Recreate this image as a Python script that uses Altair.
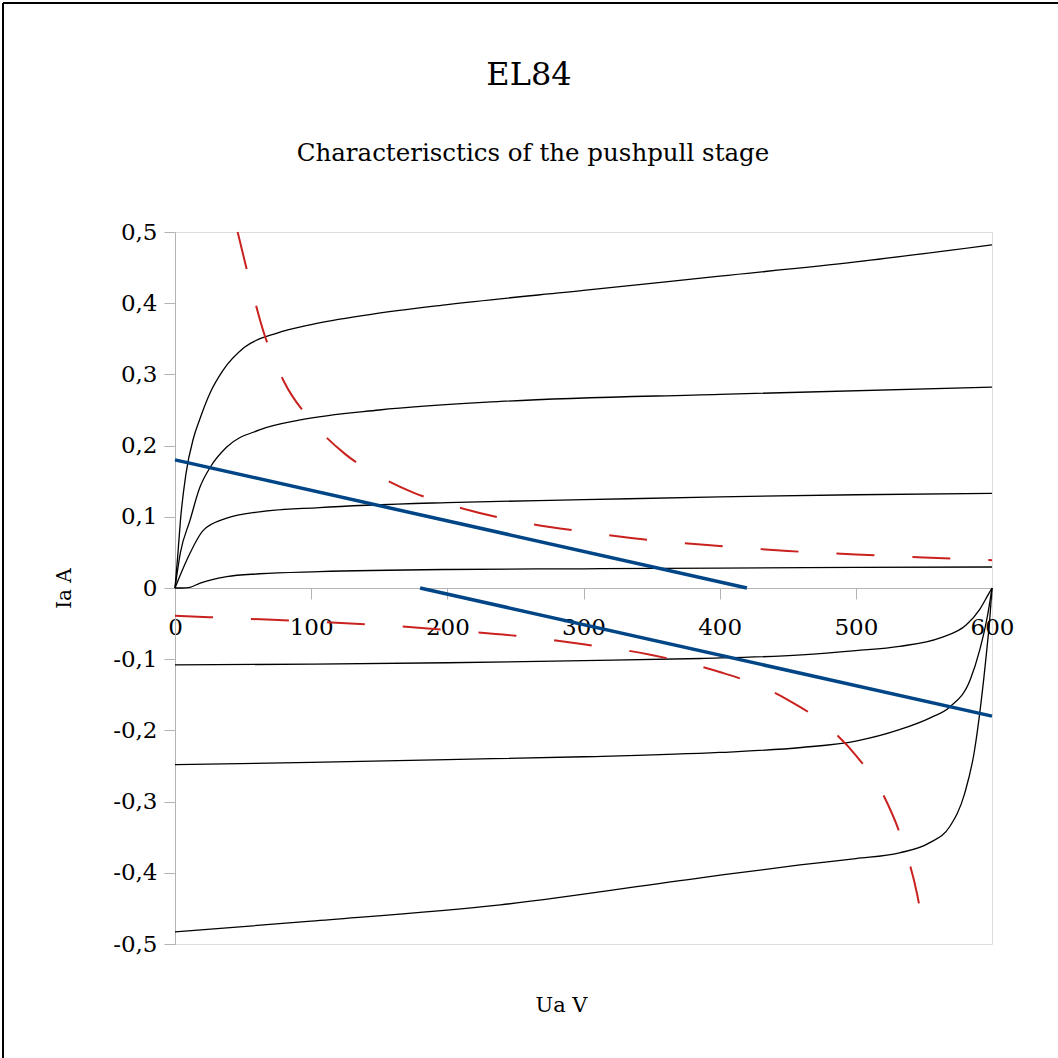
import altair as alt
import pandas as pd

# Anode characteristics of the upper tube (Ua in V, Ia in A)
ua_a = [0, 2, 4, 8, 13.5, 18, 26, 35, 51, 75, 100, 143, 200, 300, 400, 500, 600]
ia_a = [0, 0.045, 0.095, 0.16, 0.21, 0.236, 0.275, 0.305, 0.338, 0.358, 0.37, 0.384, 0.398, 0.418, 0.438, 0.458, 0.482]
ua_b = [0, 4, 11, 18, 26, 38, 62, 92, 150, 239, 400, 600]
ia_b = [0, 0.05, 0.095, 0.14, 0.17, 0.198, 0.222, 0.236, 0.25, 0.262, 0.272, 0.282]
ua_c = [0, 8.6, 20.8, 38, 62, 106, 200, 300, 400, 500, 600]
ia_c = [0, 0.039, 0.081, 0.098, 0.107, 0.113, 0.12, 0.124, 0.128, 0.131, 0.133]
ua_d = [0, 5, 11, 18, 38, 62, 106, 200, 300, 400, 500, 600]
ia_d = [0, 0, 0.001, 0.0066, 0.016, 0.02, 0.023, 0.026, 0.027, 0.028, 0.029, 0.0295]

# Characteristics of the lower tube, mirrored around 600 V
ua_e = [0, 100, 200, 300, 386, 460, 500, 532, 562, 581, 591, 597, 600]
ia_e = [-0.108, -0.107, -0.105, -0.102, -0.099, -0.094, -0.088, -0.082, -0.07, -0.052, -0.03, -0.01, 0]
ua_f = [0, 100, 200, 300, 400, 460, 500, 532, 555, 569, 584, 591, 596.6, 600]
ia_f = [-0.248, -0.245, -0.241, -0.237, -0.231, -0.224, -0.215, -0.199, -0.182, -0.167, -0.129, -0.087, -0.04, 0]
ua_g = [0, 100, 239, 386, 459, 500, 532, 554, 569, 580, 587, 592, 596, 598.5, 600]
ia_g = [-0.483, -0.468, -0.445, -0.407, -0.389, -0.38, -0.372, -0.358, -0.335, -0.288, -0.23, -0.16, -0.09, -0.04, 0]

# Maximum anode dissipation curves
ua_pmax_up = [46, 55, 65, 80, 100, 125, 150, 175, 200, 250, 300, 350, 400, 450, 500, 550, 600]
ia_pmax_up = [0.5, 0.43, 0.36, 0.29, 0.235, 0.188, 0.157, 0.134, 0.118, 0.094, 0.079, 0.067, 0.059, 0.052, 0.047, 0.043, 0.039]
ua_pmax_lo = [0, 50, 100, 150, 200, 250, 300, 350, 400, 425, 450, 475, 500, 520, 535, 545, 548]
ia_pmax_lo = [-0.039, -0.043, -0.047, -0.052, -0.059, -0.067, -0.079, -0.094, -0.118, -0.134, -0.157, -0.188, -0.235, -0.29, -0.36, -0.43, -0.46]

# Load lines
ua_load_up = [0, 420]
ia_load_up = [0.18, 0]
ua_load_lo = [180, 600]
ia_load_lo = [0, -0.18]

TITLE = "EL84"
SUBTITLE = "Characterisctics of the pushpull stage"


def frame(name, ua, ia):
    return pd.DataFrame({"series": name, "seq": range(len(ua)), "Ua": ua, "Ia": ia})


curves = pd.concat([
    frame("A", ua_a, ia_a), frame("B", ua_b, ia_b), frame("C", ua_c, ia_c),
    frame("D", ua_d, ia_d), frame("E", ua_e, ia_e), frame("F", ua_f, ia_f),
    frame("G", ua_g, ia_g),
])
pmax = pd.concat([frame("up", ua_pmax_up, ia_pmax_up), frame("lo", ua_pmax_lo, ia_pmax_lo)])
load = pd.concat([frame("up", ua_load_up, ia_load_up), frame("lo", ua_load_lo, ia_load_lo)])

FONT = "DejaVu Serif"
GRAY = "#b3b3b3"
W, H = 817, 712

x_scale = alt.Scale(domain=[0, 600], nice=False)
y_scale = alt.Scale(domain=[-0.5, 0.5], nice=False)

x_enc = alt.X(
    "Ua:Q", scale=x_scale, title="Ua V",
    axis=alt.Axis(
        orient="bottom", offset=-H / 2, values=[0, 100, 200, 300, 400, 500, 600],
        format="d", grid=False, domainColor=GRAY, tickColor=GRAY, tickSize=11,
        labelFont=FONT, labelFontSize=23, labelColor="black",
        labelBaseline="middle", labelPadding=28, labelFlush=False,
        titleFont=FONT, titleFontSize=21, titleFontWeight="normal", titleColor="black",
        titleX=386, titleY=417, titleBaseline="middle",
    ),
)
y_enc = alt.Y(
    "Ia:Q", scale=y_scale, title="Ia A",
    axis=alt.Axis(
        values=[-0.5, -0.4, -0.3, -0.2, -0.1, 0, 0.1, 0.2, 0.3, 0.4, 0.5],
        labelExpr="datum.value == 0 ? '0' : replace(replace(format(datum.value, '.1f'), '.', ','), '\u2212', '-')",
        grid=False, domainColor=GRAY, tickColor=GRAY, tickSize=11,
        labelFont=FONT, labelFontSize=23, labelColor="black", labelPadding=7,
        labelFlush=False,
        titleFont=FONT, titleFontSize=20, titleFontWeight="normal", titleColor="black",
        titlePadding=38,
    ),
)

tube_lines = alt.Chart(curves).mark_line(
    color="black", strokeWidth=1.3, interpolate="monotone"
).encode(x=x_enc, y=y_enc, detail="series:N", order="seq:Q")

pmax_lines = alt.Chart(pmax).mark_line(
    color="#c9211e", strokeWidth=2, strokeDash=[38, 38], interpolate="monotone"
).encode(x="Ua:Q", y="Ia:Q", detail="series:N", order="seq:Q")

load_lines = alt.Chart(load).mark_line(
    color="#004586", strokeWidth=3.5
).encode(x="Ua:Q", y="Ia:Q", detail="series:N", order="seq:Q")

one = pd.DataFrame({"k": [0]})

# Chart title and subtitle, centred on the page
title_mark = alt.Chart(one).mark_text(
    font=FONT, fontSize=32, color="black", align="center", baseline="alphabetic"
).encode(x=alt.value(354), y=alt.value(-147), text=alt.value(TITLE))
subtitle_mark = alt.Chart(one).mark_text(
    font=FONT, fontSize=24.5, color="black", align="center", baseline="alphabetic"
).encode(x=alt.value(358), y=alt.value(-71), text=alt.value(SUBTITLE))

# Outer border of the chart page (left and top edges)
border_left = alt.Chart(one).mark_rule(color="black", strokeWidth=2).encode(
    x=alt.value(-172), y=alt.value(-229), y2=alt.value(H + 200)
)
border_top = alt.Chart(one).mark_rule(color="black", strokeWidth=2).encode(
    x=alt.value(-172), x2=alt.value(W + 200), y=alt.value(-229)
)

chart = alt.layer(
    tube_lines, pmax_lines, load_lines, title_mark, subtitle_mark, border_left, border_top
).properties(
    width=W,
    height=H,
    padding={"left": 175, "top": 232, "right": 66, "bottom": 114},
    autosize=alt.AutoSizeParams(type="none"),
).configure_view(stroke=GRAY, strokeWidth=1).configure(background="white")

chart.save("out.html", embed_options={"renderer": "svg", "actions": False})
